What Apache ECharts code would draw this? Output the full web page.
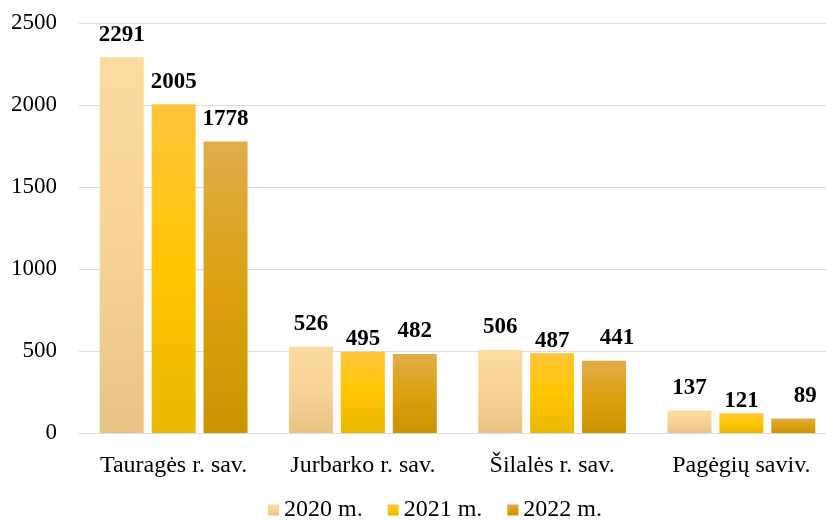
<!DOCTYPE html>
<html><head><meta charset="utf-8">
<script src="https://cdn.jsdelivr.net/npm/echarts@6/dist/echarts.min.js"></script>
<style>html,body{margin:0;padding:0;background:#fff}#c{width:826px;height:521px}</style>
</head><body><div id="c"></div>
<script>
const categories = ['Tauragės r. sav.', 'Jurbarko r. sav.', 'Šilalės r. sav.', 'Pagėgių saviv.'];
const seriesNames = ['2020 m.', '2021 m.', '2022 m.'];
const v2020 = [2291, 526, 506, 137];
const v2021 = [2005, 495, 487, 121];
const v2022 = [1778, 482, 441, 89];
const yTicks = [0, 500, 1000, 1500, 2000, 2500];

const FONT = '"Liberation Serif", "Times New Roman", serif';
function grad(top, mid, bot) {
  return new echarts.graphic.LinearGradient(0, 0, 0, 1, [
    {offset: 0, color: top}, {offset: 0.5, color: mid}, {offset: 1, color: bot}
  ]);
}
const colors = [
  grad('#FDDBA1', '#F8D397', '#E8C386'),
  grad('#FEC53D', '#FFC600', '#E9B800'),
  grad('#E0AD4A', '#DCA010', '#CC9300')
];
// label placement tweaks (series index -> category index -> label style)
const labelTweaks = {
  1: {1: {distance: 1}, 2: {distance: 1}, 3: {distance: 1}},
  2: {2: {offset: [13, 0]}, 3: {offset: [12, 0]}}
};
const data = [v2020, v2021, v2022];
const chart = echarts.init(document.getElementById('c'), null, {renderer: 'canvas'});
chart.setOption({
  animation: false,
  textStyle: {fontFamily: FONT},
  grid: {left: 79, width: 757, top: 23, height: 410, containLabel: false, outerBoundsMode: 'none'},
  legend: {
    bottom: -6, left: 263,
    itemWidth: 11, itemHeight: 11, itemGap: 25,
    icon: 'rect',
    textStyle: {fontFamily: FONT, fontSize: 24, color: '#000', padding: [3,0,0,0]},
    data: seriesNames
  },
  xAxis: {
    type: 'category', data: categories,
    axisLine: {show: true, lineStyle: {color: '#D9DDE3', width: 1}},
    axisTick: {show: false},
    axisLabel: {fontFamily: FONT, fontSize: 24, color: '#000', margin: 21, interval: 0}
  },
  yAxis: {
    type: 'value', min: 0, max: 2500, interval: 500,
    axisLine: {show: false}, axisTick: {show: false},
    splitLine: {lineStyle: {color: '#D9DDE3', width: 1}},
    axisLabel: {fontFamily: FONT, fontSize: 23, color: '#000', margin: 22,
      formatter: v => yTicks.includes(v) ? String(v) : ''}
  },
  series: seriesNames.map((n, i) => ({
    name: n, type: 'bar',
    data: data[i].map((v, j) => {
      const t = (labelTweaks[i] || {})[j];
      return t ? {value: v, label: t} : v;
    }),
    barWidth: 44, barGap: '18%',
    itemStyle: {color: colors[i]},
    label: {show: true, position: 'top', distance: 11,
      fontFamily: FONT, fontSize: 23, fontWeight: 'bold', color: '#000'}
  }))
});
</script></body></html>
